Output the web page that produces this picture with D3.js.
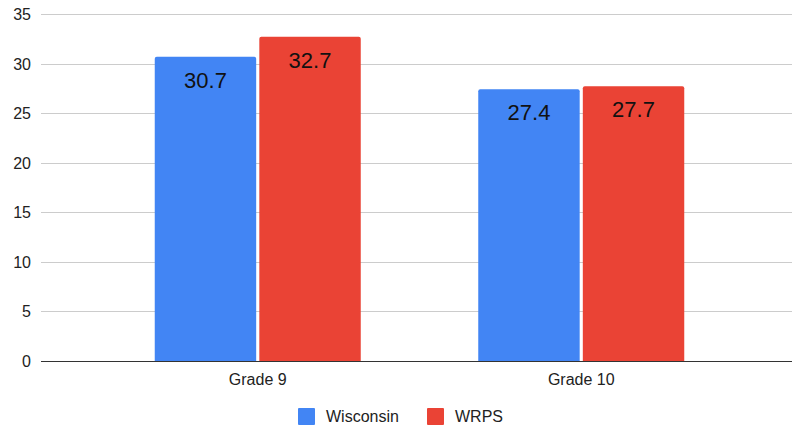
<!DOCTYPE html>
<html>
<head>
<meta charset="utf-8">
<script src="https://cdn.jsdelivr.net/npm/d3@7"></script>
<style>
  body { margin: 0; background: #fff; }
  text { font-family: "Liberation Sans", Arial, sans-serif; }
</style>
</head>
<body>
<div id="chart"></div>
<script>
// data
const grades = ["Grade 9", "Grade 10"];
const seriesNames = ["Wisconsin", "WRPS"];
const wisconsin = [30.7, 27.4];
const wrps = [32.7, 27.7];
const yTicks = [0, 5, 10, 15, 20, 25, 30, 35];
const colors = ["#4285f4", "#ea4335"];

var width = 792, height = 426;
var margin = {top: 14, right: 0, bottom: 65, left: 41};

var svg = d3.select("#chart").append("svg")
  .attr("width", width)
  .attr("height", height);

var y = d3.scaleLinear()
  .domain([0, 35])
  .range([361, 14]);

// group centers
var x0 = d3.scalePoint()
  .domain(grades)
  .range([96, 743])
  .padding(0.5);

var x1 = d3.scaleBand()
  .domain(seriesNames)
  .range([-103, 103])
  .paddingInner(0.03);

var rows = grades.map(function(g, i) {
  return {grade: g, values: [wisconsin[i], wrps[i]]};
});

// gridlines
svg.append("g").selectAll("line")
  .data(yTicks.filter(function(d) { return d > 0; }))
  .enter().append("line")
  .attr("x1", margin.left)
  .attr("x2", width)
  .attr("y1", function(d) { return Math.round(y(d)) + 0.5; })
  .attr("y2", function(d) { return Math.round(y(d)) + 0.5; })
  .attr("stroke", "#cccccc")
  .attr("stroke-width", 1);

// y labels
svg.append("g").selectAll("text")
  .data(yTicks)
  .enter().append("text")
  .attr("x", 31)
  .attr("y", function(d) { return y(d) + 6; })
  .attr("text-anchor", "end")
  .attr("font-size", 16)
  .attr("fill", "#222")
  .text(function(d) { return d; });

// bars (rounded top corners)
function barPath(x, yTop, w, yBase) {
  var r = 2;
  return "M" + x + "," + yBase +
    "V" + (yTop + r) +
    "Q" + x + "," + yTop + " " + (x + r) + "," + yTop +
    "H" + (x + w - r) +
    "Q" + (x + w) + "," + yTop + " " + (x + w) + "," + (yTop + r) +
    "V" + yBase + "Z";
}

var groups = svg.selectAll(".group")
  .data(rows)
  .enter().append("g")
  .attr("class", "group")
  .attr("transform", function(d) { return "translate(" + x0(d.grade) + ",0)"; });

groups.selectAll("path")
  .data(function(d) { return d.values.map(function(v, i) { return {name: seriesNames[i], value: v, i: i}; }); })
  .enter().append("path")
  .attr("d", function(d) { return barPath(x1(d.name), y(d.value), x1.bandwidth(), y(0)); })
  .attr("fill", function(d) { return colors[d.i]; });

groups.selectAll(".barValue")
  .data(function(d) { return d.values.map(function(v, i) { return {name: seriesNames[i], value: v}; }); })
  .enter().append("text")
  .attr("class", "barValue")
  .attr("x", function(d) { return x1(d.name) + x1.bandwidth() / 2; })
  .attr("y", function(d) { return y(d.value) + 31; })
  .attr("text-anchor", "middle")
  .attr("font-size", 22)
  .attr("fill", "#111")
  .text(function(d) { return d.value; });

// baseline
svg.append("line")
  .attr("x1", margin.left)
  .attr("x2", width)
  .attr("y1", y(0) + 0.5)
  .attr("y2", y(0) + 0.5)
  .attr("stroke", "#333")
  .attr("stroke-width", 1);

// x labels
svg.append("g").selectAll("text")
  .data(grades)
  .enter().append("text")
  .attr("x", function(d) { return x0(d); })
  .attr("y", 385)
  .attr("text-anchor", "middle")
  .attr("font-size", 16)
  .attr("fill", "#222")
  .text(function(d) { return d; });

// legend
var legendX = [298, 427];
var legend = svg.selectAll(".legend")
  .data(seriesNames)
  .enter().append("g")
  .attr("class", "legend")
  .attr("transform", function(d, i) { return "translate(" + legendX[i] + ",408)"; });

legend.append("rect")
  .attr("width", 17)
  .attr("height", 17)
  .attr("rx", 1)
  .attr("fill", function(d, i) { return colors[i]; });

legend.append("text")
  .attr("x", 28)
  .attr("y", 14)
  .attr("font-size", 16)
  .attr("fill", "#222")
  .text(function(d) { return d; });
</script>
</body>
</html>
